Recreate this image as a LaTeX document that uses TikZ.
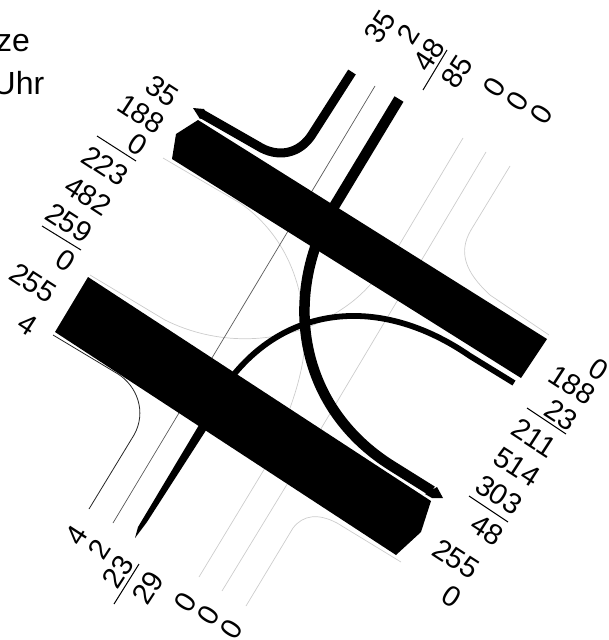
\documentclass[tikz,border=0pt]{standalone}
\usepackage{fontspec}
\setmainfont{Liberation Sans}
\tikzset{
 lab/.style={inner sep=0pt,font=\fontsize{29}{29}\selectfont},
 ttl/.style={inner sep=0pt,font=\fontsize{32}{32}\selectfont},
 lefta/.style={lab,rotate=-33},
 upa/.style={lab,rotate=57},
 rulel/.style={line width=1pt,black},
 faint/.style={line width=0.7pt,black!20},
 fine/.style={line width=0.7pt,black!65},
 darkfine/.style={line width=0.8pt,black!85},
 road/.style={fill=black,draw=none},
 lane/.style={draw=black,line join=round}
}
\begin{document}
\begin{tikzpicture}[x=1pt,y=-1pt]
\useasboundingbox (0,0) rectangle (608,640);
% faint kerbs
\draw[faint] (163,158) -- (240,203) .. controls (272,225) and (292,258) .. (300,295) .. controls (310,340) and (308,375) .. (265,468) -- (199,577);
\draw[faint] (90,275) -- (165,320) .. controls (215,345) and (275,345) .. (324,320) .. controls (350,305) and (370,293) .. (401,242) -- (463,138);
\draw[faint] (486,152) -- (322,427) -- (222,591);
\draw[faint] (510,166) -- (471,230) .. controls (458,252) and (465,272) .. (490,295) -- (549,335);
\draw[faint] (401,562) -- (337,523) .. controls (318,513) and (303,515) .. (293,528) -- (246,606);
% fine lines
\draw[fine] (375,86) -- (113,523);
\draw[darkfine] (53,335) -- (118,374) .. controls (137,386) and (147,412) .. (134,435) -- (89,509);
% lanes
\draw[lane,line width=9pt] (202,114) -- (258,146) .. controls (277,158) and (300,155) .. (313,133) -- (352,72);
\fill[black] (193,108) -- (204,109) -- (207,114) -- (200,119) -- cycle;
\draw[lane,line width=10.5pt] (399,99) -- (335,205) .. controls (282,292) and (296,406) .. (392,466) -- (432,491);
\fill[black] (437,487) -- (443,498) -- (432,498) -- (425,494) -- cycle;
\draw[lane,line width=5.8pt] (228,382) .. controls (285,305) and (380,294) .. (470,356) -- (514,383);
\fill[black] (205,415) -- (138,527) -- (135,538) -- (147,522) -- (212,421) -- cycle;
% bars
\fill[road] (198,120) -- (176,134) -- (172,159) -- (521,378) -- (547,339) -- cycle;
\fill[road] (88,277) -- (55,332) -- (396,555) -- (421,532) -- (431,501) -- cycle;
% labels
\node[ttl,anchor=east] (t1) at (30,43) {ze};
\node[ttl,anchor=east] (t2) at (44.5,83) {Uhr};
\node[lefta] (a1) at (162,91) {35};
\node[lefta] (a2) at (141,114) {188};
\node[lefta] (a3) at (138,145) {0};
\node[lefta] (a4) at (105,166) {223};
\node[lefta] (a5) at (88,196) {482};
\node[lefta] (a6) at (69,223) {259};
\node[lefta] (a7) at (66,261) {0};
\node[lefta] (a8) at (33,283) {255};
\node[lefta] (a9) at (28,325) {4};
\coordinate (r1a) at (97,136); \coordinate (r1b) at (136,161);
\coordinate (r2a) at (42,226); \coordinate (r2b) at (81,250);
\draw[rulel] (r1a) -- (r1b);
\draw[rulel] (r2a) -- (r2b);
\node[upa] (b1) at (380,27) {35};
\node[upa] (b2) at (408,34) {2};
\node[upa] (b3) at (429,55) {48};
\node[upa] (b4) at (457,72) {85};
\node[upa] (b5) at (495,87) {0};
\node[upa] (b6) at (518,101) {0};
\node[upa] (b7) at (542,114) {0};
\coordinate (r3a) at (447,50); \coordinate (r3b) at (423,90);
\draw[rulel] (r3a) -- (r3b);
\node[upa] (c1) at (77,535) {4};
\node[upa] (c2) at (99,549) {2};
\node[upa] (c3) at (118,572) {23};
\node[upa] (c4) at (148,588) {29};
\node[upa] (c5) at (186,602) {0};
\node[upa] (c6) at (209,615) {0};
\node[upa] (c7) at (232,629) {0};
\coordinate (r4a) at (139,564); \coordinate (r4b) at (114,604);
\draw[rulel] (r4a) -- (r4b);
\node[lefta] (d1) at (599,370) {0};
\node[lefta] (d2) at (572,385) {188};
\node[lefta] (d3) at (561,415) {23};
\node[lefta] (d4) at (534,438) {211};
\node[lefta] (d5) at (517,467) {514};
\node[lefta] (d6) at (499,495) {303};
\node[lefta] (d7) at (487,530) {48};
\node[lefta] (d8) at (456,559) {255};
\node[lefta] (d9) at (452,597) {0};
\coordinate (r5a) at (527,408); \coordinate (r5b) at (566,434);
\coordinate (r6a) at (469,496); \coordinate (r6b) at (508,522);
\draw[rulel] (r5a) -- (r5b);
\draw[rulel] (r6a) -- (r6b);
\end{tikzpicture}
\end{document}
